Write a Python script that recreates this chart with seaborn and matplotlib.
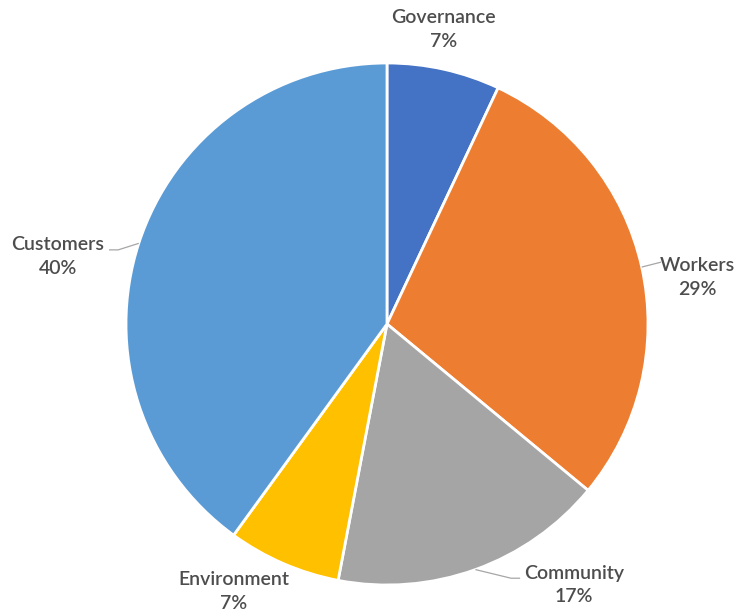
import matplotlib
matplotlib.use("Agg")
import matplotlib.pyplot as plt
import seaborn as sns
import numpy as np

sns.set_theme(style="white")
plt.rcParams['font.family'] = ['Lato', 'DejaVu Sans']

# Data
categories = ["Governance", "Workers", "Community", "Environment", "Customers"]
shares = [7, 29, 17, 7, 40]
colors = ["#4472C4", "#ED7D31", "#A5A5A5", "#FFC000", "#5B9BD5"]

# Label layout (axes data units, pie radius = 1)
label_pos = {
    "Governance": (0.215, 1.130),
    "Workers": (1.188, 0.180),
    "Community": (0.717, -1.000),
    "Environment": (-0.586, -1.023),
    "Customers": (-1.261, 0.260),
}
leader = {  # (elbow point, end point) or None
    "Governance": None,
    "Workers": ((1.05, 0.237), (1.05, 0.237)),
    "Community": ((0.475, -0.974), (0.51, -0.974)),
    "Environment": None,
    "Customers": ((-1.030, 0.284), (-1.065, 0.284)),
}

fig = plt.figure(figsize=(7.37, 6.13), dpi=100)
ax = fig.add_axes([0, 0, 1, 1])
R = 261.0

wedges, _ = ax.pie(shares, colors=colors, startangle=90, counterclock=False,
                   radius=1.0, center=(0, 0), frame=True,
                   wedgeprops=dict(edgecolor="white", linewidth=2))
ax.set_xlim(-387 / R, (737 - 387) / R)
ax.set_ylim(-(613 - 324) / R, 324 / R)
ax.set_aspect("auto")
ax.axis("off")

for w, cat, val in zip(wedges, categories, shares):
    mid = np.deg2rad((w.theta1 + w.theta2) / 2)
    ex, ey = np.cos(mid), np.sin(mid)
    lx, ly = label_pos[cat]
    ax.text(lx, ly, f"{cat}\n{val}%", ha="center", va="center",
            fontsize=14, fontweight="semibold", color="#4d4d4d",
            linespacing=1.5)
    if leader[cat] is not None:
        (bx, by), (cx, cy) = leader[cat]
        ax.plot([ex, bx, cx], [ey, by, cy], color="#A6A6A6", lw=0.9,
                solid_capstyle="butt")

fig.savefig("out.png", dpi=100)
